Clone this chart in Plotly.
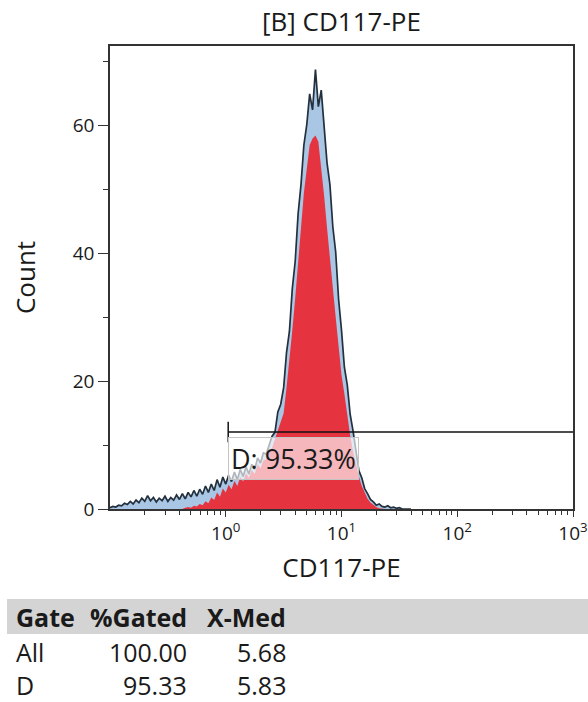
import plotly.graph_objects as go

# ---------------- data ----------------
title_text = "[B] CD117-PE"
x_title = "CD117-PE"
y_title = "Count"

# histogram channel layout (log10 decades)
bin_start_log = -1.0
bin_step_log = 0.025

# all events (blue) counts per bin
all_counts = [
    0.2, 0.4, 0.3, 0.6, 0.5, 0.9, 0.7, 1.2, 0.8, 1.4,
    1.0, 1.7, 1.2, 2.1, 1.3, 1.8, 1.1, 1.7, 1.3, 2.0,
    1.2, 1.8, 1.4, 2.2, 1.5, 2.4, 1.6, 2.6, 1.9, 2.9,
    2.0, 3.1, 2.3, 3.6, 2.6, 3.9, 2.9, 4.6, 3.4, 5.0,
    3.9, 5.3, 4.3, 5.8, 4.6, 6.2, 5.1, 6.6, 5.5, 7.0,
    6.2, 8.0, 7.2, 8.8, 8.6, 10.2, 11.4, 12.0, 15.2, 16.4,
    19.0, 24.5, 27.8, 34.5, 38.8, 46.2, 50.8, 57.0, 60.2, 65.0,
    62.5, 68.8, 63.0, 65.6, 60.2, 54.2, 50.8, 44.2, 40.2, 32.8,
    28.0, 22.2, 19.4, 14.8, 12.2, 9.4, 6.0, 4.9, 3.2, 2.4,
    1.5, 1.1, 0.6, 0.8, 0.4, 0.3, 0.5, 0.2, 0.3, 0.1,
    0.2, 0.0, 0.0, 0.0, 0.0,
]

# gated population (red) counts per bin
gated_counts = [
    0, 0, 0, 0, 0, 0, 0, 0, 0, 0,
    0, 0, 0, 0, 0, 0, 0, 0, 0, 0,
    0, 0, 0, 0, 0, 0, 0.2, 0.3, 0.2, 0.5,
    0.4, 0.8, 0.6, 1.2, 0.9, 1.8, 1.4, 2.6, 1.9, 3.2,
    2.6, 3.8, 3.1, 4.4, 3.6, 5.0, 4.3, 5.6, 4.9, 6.1,
    5.5, 7.0, 6.4, 7.6, 7.8, 9.0, 9.6, 11.0, 12.2, 13.5,
    15.0, 19.0, 23.0, 28.0, 33.0, 38.0, 44.0, 49.5, 53.5, 57.0,
    58.0, 58.5, 57.5, 53.5, 49.0, 44.0, 39.0, 34.0, 30.0, 25.5,
    21.0, 18.0, 14.5, 11.5, 9.0, 7.0, 5.1, 3.6, 2.5, 1.6,
    1.0, 0.6, 0.3, 0.1, 0, 0, 0, 0, 0, 0,
    0, 0, 0, 0, 0,
]

# gate D
gate_name = "D"
gate_low = 1.05
gate_high = 1000
gate_level = 12.06
gate_pct = 95.33

# statistics table
table_header = ["Gate", "%Gated", "X-Med"]
table_gates = ["All", "D"]
table_pct = ["100.00", "95.33"]
table_xmed = ["5.68", "5.83"]

# axis ticks
x_major = [1, 10, 100, 1000]
x_major_text = ["10<sup>0</sup>", "10<sup>1</sup>", "10<sup>2</sup>", "10<sup>3</sup>"]
x_minor = [m * d for d in [0.1, 1, 10, 100] for m in range(2, 10)]
y_major = [0, 20, 40, 60]
y_minor = [10, 30, 50, 70]

# ---------------- figure ----------------
W, H = 588, 702
L, R, T, B = 110, 15, 46, 193
PW, PH = W - L - R, H - T - B

def px2x(px):
    return (px - L) / PW

def py2y(py):
    return (H - B - py) / PH

xs = [10 ** (bin_start_log + bin_step_log * i) for i in range(len(all_counts))]

FONT = "Open Sans"
TXT = "#1a1a1a"
AX = "#333333"

fig = go.Figure()
fig.add_trace(go.Scatter(
    x=xs, y=all_counts, mode="lines", line=dict(color="#23303d", width=1.7, shape="linear"),
    fill="tozeroy", fillcolor="#a9c6e4", hoverinfo="skip", showlegend=False))
fig.add_trace(go.Scatter(
    x=xs, y=gated_counts, mode="lines", line=dict(color="rgba(0,0,0,0)", width=0, shape="linear"),
    fill="tozeroy", fillcolor="#e5333f", hoverinfo="skip", showlegend=False))

# gate marker
fig.add_trace(go.Scatter(
    x=[gate_low, gate_low, None, gate_low, gate_high],
    y=[gate_level + 1.6, gate_level - 1.6, None, gate_level, gate_level],
    mode="lines", line=dict(color="#111111", width=1.5), hoverinfo="skip",
    showlegend=False, cliponaxis=False))

fig.add_annotation(
    x=0.0211893, y=gate_level, xref="x", yref="y",
    text=f"{gate_name}: {gate_pct:.2f}%", showarrow=False,
    xanchor="left", yanchor="top", yshift=-5, xshift=0,
    font=dict(family=FONT, size=27, color=TXT),
    bgcolor="rgba(255,255,255,0.65)", bordercolor="#c4c4c4", borderwidth=1, borderpad=2)

# table header band
fig.add_shape(type="rect", xref="paper", yref="paper",
              x0=px2x(7), x1=px2x(W), y0=py2y(634), y1=py2y(599),
              fillcolor="#d4d4d4", line=dict(width=0), layer="below")

TF = 25
hdr_y = py2y(617)
row_y = [py2y(652), py2y(685)]
col_left = px2x(14)
col_pct_right = px2x(189)
col_med_right = px2x(288)

fig.add_annotation(x=col_left, y=hdr_y, xref="paper", yref="paper", text=f"<b>{table_header[0]}</b>",
                   showarrow=False, xanchor="left", yanchor="middle",
                   font=dict(family=FONT, size=TF, color=TXT))
fig.add_annotation(x=col_pct_right, y=hdr_y, xref="paper", yref="paper", text=f"<b>{table_header[1]}</b>",
                   showarrow=False, xanchor="right", yanchor="middle",
                   font=dict(family=FONT, size=TF, color=TXT))
fig.add_annotation(x=col_med_right, y=hdr_y, xref="paper", yref="paper", text=f"<b>{table_header[2]}</b>",
                   showarrow=False, xanchor="right", yanchor="middle",
                   font=dict(family=FONT, size=TF, color=TXT))
for g, p, m, yy in zip(table_gates, table_pct, table_xmed, row_y):
    fig.add_annotation(x=col_left, y=yy, xref="paper", yref="paper", text=g, showarrow=False,
                       xanchor="left", yanchor="middle", font=dict(family=FONT, size=TF, color=TXT))
    fig.add_annotation(x=col_pct_right, y=yy, xref="paper", yref="paper", text=p, showarrow=False,
                       xanchor="right", yanchor="middle", font=dict(family=FONT, size=TF, color=TXT))
    fig.add_annotation(x=col_med_right, y=yy, xref="paper", yref="paper", text=m, showarrow=False,
                       xanchor="right", yanchor="middle", font=dict(family=FONT, size=TF, color=TXT))

fig.update_layout(
    width=W, height=H,
    margin=dict(l=L, r=R, t=T, b=B, autoexpand=False),
    paper_bgcolor="white", plot_bgcolor="white",
    font=dict(family=FONT, color=TXT),
    title=dict(text=title_text, x=0.5, xref="paper", y=1 - 22 / H, yref="container",
               xanchor="center", yanchor="middle", font=dict(family=FONT, size=26, color=TXT)),
)
fig.update_xaxes(
    type="log", range=[-1, 3], showgrid=False, zeroline=False,
    showline=True, linecolor=AX, linewidth=1.6, mirror=True,
    tickmode="array", tickvals=x_major, ticktext=x_major_text,
    ticks="outside", ticklen=6, tickwidth=1.4, tickcolor=AX,
    tickfont=dict(family=FONT, size=19, color=TXT),
    minor=dict(tickmode="array", tickvals=x_minor, ticks="outside", ticklen=4,
               tickwidth=1.2, tickcolor=AX, showgrid=False),
    title=dict(text=x_title, font=dict(family=FONT, size=26, color=TXT), standoff=14),
    automargin=False,
)
fig.update_yaxes(
    range=[0, 72.5], showgrid=False, zeroline=False,
    showline=True, linecolor=AX, linewidth=1.6, mirror=True,
    tickmode="array", tickvals=y_major,
    ticks="outside", ticklen=10, tickwidth=1.4, tickcolor=AX,
    tickfont=dict(family=FONT, size=19, color=TXT),
    minor=dict(tickmode="array", tickvals=y_minor, ticks="outside", ticklen=5,
               tickwidth=1.2, tickcolor=AX, showgrid=False),
    title=dict(text=y_title, font=dict(family=FONT, size=26, color=TXT), standoff=30),
    automargin=False,
)

fig.write_html("out.html")
